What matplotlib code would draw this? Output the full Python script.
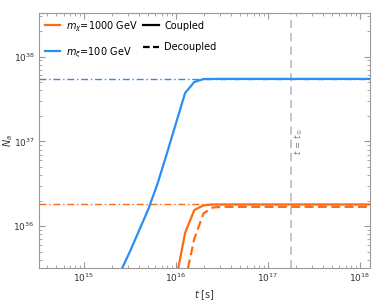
import numpy as np
import matplotlib.pyplot as plt
from matplotlib.lines import Line2D

# log10 of time [s]
logt = np.array([15.4, 15.5, 15.6, 15.7, 15.8, 15.9, 16.0, 16.1, 16.2, 16.3, 16.4, 16.5, 17.0, 17.5, 18.0, 18.2])

# log10 N_a
blue_c = np.array([35.47, 35.70, 35.95, 36.20, 36.50, 36.85, 37.21, 37.57, 37.70, 37.735, 37.737, 37.737, 37.737, 37.737, 37.737, 37.737])
orange_c = np.array([np.nan, np.nan, np.nan, np.nan, np.nan, np.nan, 35.36, 35.92, 36.19, 36.245, 36.256, 36.256, 36.256, 36.256, 36.256, 36.256])
orange_d = np.array([np.nan, np.nan, np.nan, np.nan, np.nan, np.nan, np.nan, 35.35, 35.85, 36.15, 36.22, 36.228, 36.228, 36.228, 36.228, 36.228])

blue_lim = 5.46e37
orange_lim = 1.82e36
t_sun = 1.77e17

orange = '#FF6A13'
blue = '#2A8EF5'
gray = '#777777'

t = 10**logt
fig = plt.figure(figsize=(3.74, 3.01), dpi=100)
ax = fig.add_axes([0.104, 0.1106, 0.885, 0.845])

ax.axhline(blue_lim, color=blue, lw=1.0, ls=(0, (5, 2, 1, 2)))
ax.axhline(orange_lim, color=orange, lw=1.0, ls=(0, (5, 2, 1, 2)))
ax.axvline(t_sun, color='#b8bcc2', lw=1.2, ls=(0, (5, 3)))

ax.plot(t, 10**blue_c, color=blue, lw=1.6)
ax.plot(t, 10**orange_c, color=orange, lw=1.6)
ax.plot(t, 10**orange_d, color=orange, lw=1.6, ls=(0, (4, 2)))

ax.text(2.15e17, 1.0e37, r'$t\,=\,t_\odot$', rotation=90, color=gray, fontsize=6,
        ha='center', va='center')

ax.set_xscale('log')
ax.set_yscale('log')
ax.set_xlim(10**14.51, 10**18.11)
ax.set_ylim(10**35.51, 10**38.51)

for s in ax.spines.values():
    s.set_color('#999999')
    s.set_linewidth(0.8)
ax.tick_params(which='both', direction='in', top=True, right=True, colors='#999999',
               labelcolor='#333333', labelsize=6.5)
ax.tick_params(which='major', length=4, pad=3)
ax.tick_params(which='minor', length=2)

ax.set_xlabel(r'$t$ [s]', fontsize=7, color='#333333')
ax.set_ylabel(r'$N_a$', fontsize=7, color='#333333')
ax.xaxis.set_label_coords(0.5, -0.08)
ax.yaxis.set_label_coords(-0.072, 0.5)

handles = [Line2D([], [], color=orange, lw=1.6), Line2D([], [], color=blue, lw=1.6),
           Line2D([], [], color='black', lw=1.6), Line2D([], [], color='black', lw=1.6, ls=(0, (3, 1.5)))]
labels = [r'$m_\chi$=1000 GeV', r'$m_\xi$=100 GeV', 'Coupled', 'Decoupled']
ax.legend(handles, labels, ncol=2, loc='upper left', frameon=False, fontsize=7,
          handlelength=1.6, handletextpad=0.6, labelspacing=1.2, columnspacing=0.5,
          borderaxespad=0.2, borderpad=0.4)

plt.savefig('out.png', dpi=100)
